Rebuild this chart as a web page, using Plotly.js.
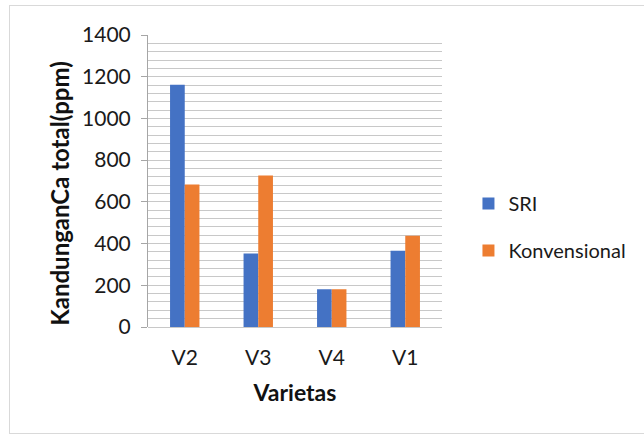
<!DOCTYPE html>
<html>
<head>
<meta charset="utf-8">
<script src="https://cdn.plot.ly/plotly-3.0.1.min.js"></script>
<style>
  html, body { margin: 0; padding: 0; background: #fff; overflow: hidden; }
  #wrap { position: relative; width: 644px; height: 437px; overflow: hidden; }
  #frame { position: absolute; left: 9px; top: 5px; width: 700px; height: 429px;
           border: 1.5px solid #d9d9d9; box-sizing: border-box; z-index: 0; }
  #chart { position: absolute; left: 0; top: 0; width: 644px; height: 437px; z-index: 1; }
</style>
</head>
<body>
<div id="wrap">
  <div id="frame"></div>
  <div id="chart"></div>
</div>
<script>
const categories = ["V2", "V3", "V4", "V1"];
const sriValues = [1162, 352, 181, 366];
const konvValues = [683, 726, 181, 438];
const seriesNames = ["SRI", "Konvensional"];
const yTickValues = [0, 200, 400, 600, 800, 1000, 1200, 1400];
const xTitle = "Varietas";
const yTitle = "KandunganCa total(ppm)";

const FONT = "Lato, 'Open Sans', sans-serif";

const traces = [
  {
    type: "bar", name: seriesNames[0], x: categories, y: sriValues,
    marker: { color: "#4472C4" }, legendgroup: "a", hoverinfo: "x+y"
  },
  {
    type: "bar", name: seriesNames[1], x: categories, y: konvValues,
    marker: { color: "#ED7D31" }, legendgroup: "b", hoverinfo: "x+y"
  }
];

const layout = {
  width: 644, height: 437,
  paper_bgcolor: "rgba(0,0,0,0)", plot_bgcolor: "rgba(0,0,0,0)",
  margin: { l: 148, r: 197, t: 35, b: 110, pad: 0 },
  barmode: "group", bargap: 0.6, bargroupgap: 0,
  font: { family: FONT, size: 20, color: "#1a1a1a" },
  showlegend: true,
  legend: {
    x: 1.09, xanchor: "left", y: 0.49, yanchor: "top",
    font: { family: FONT, size: 20, color: "#1a1a1a" },
    tracegroupgap: 18, bgcolor: "rgba(0,0,0,0)"
  },
  xaxis: {
    type: "category", categoryorder: "array", categoryarray: categories,
    showline: false, showgrid: false, zeroline: false,
    ticks: "", ticklen: 0, ticklabelstandoff: 16,
    tickfont: { family: FONT, size: 21, color: "#1a1a1a" },
    title: { text: xTitle, font: { family: FONT, size: 23, color: "#111", weight: "bold" }, standoff: 16 },
    fixedrange: true
  },
  yaxis: {
    range: [0, 1400], tickvals: yTickValues,
    showline: true, linecolor: "#a6a6a6", linewidth: 1,
    ticks: "outside", ticklen: 6, tickcolor: "#a6a6a6",
    ticklabelstandoff: 6,
    showgrid: true, gridcolor: "#c8c8c8", gridwidth: 1,
    zeroline: true, zerolinecolor: "#c8c8c8",
    minor: { dtick: 40, showgrid: true, gridcolor: "#c8c8c8", gridwidth: 1, ticks: "" },
    tickfont: { family: FONT, size: 21, color: "#1a1a1a" },
    fixedrange: true
  },
  annotations: [
    {
      text: yTitle, xref: "paper", yref: "paper",
      x: -0.301, y: 0.455, xanchor: "center", yanchor: "middle",
      textangle: -90, showarrow: false,
      font: { family: FONT, size: 24, color: "#111", weight: "bold" }
    }
  ]
};

Plotly.newPlot("chart", traces, layout, { displayModeBar: false, staticPlot: true });
</script>
</body>
</html>
